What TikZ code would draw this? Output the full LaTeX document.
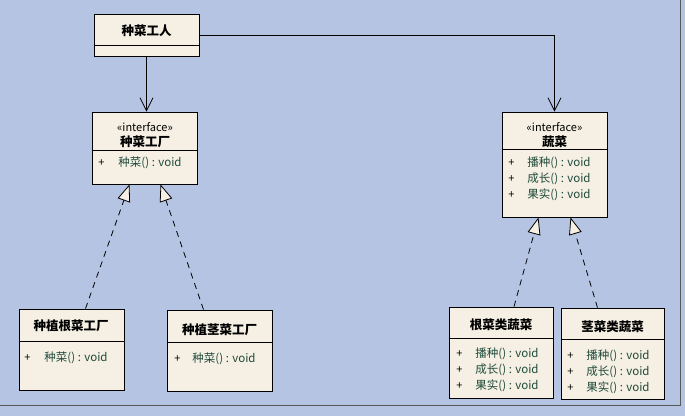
\documentclass[tikz,border=0pt]{standalone}
\usepackage{fontspec}
\setmainfont{Noto Sans CJK SC}
\usetikzlibrary{arrows.meta}
\definecolor{bgblue}{HTML}{B4C4E2}
\definecolor{boxfill}{HTML}{F5F0E3}
\definecolor{opgreen}{HTML}{1F4A3C}
\begin{document}
\begin{tikzpicture}[x=1pt,y=-1pt,line width=0.8pt,
  umlbox/.style={draw=black,fill=boxfill,inner sep=0pt,minimum width=105pt},
  clsname/.style={font=\fontsize{12.5}{14}\selectfont\bfseries},
  stereo/.style={font=\fontsize{11}{13}\selectfont},
  plus/.style={anchor=west,inner sep=0pt,font=\fontsize{11}{13}\selectfont},
  oper/.style={anchor=west,inner sep=0pt,text=opgreen,font=\fontsize{11.5}{13}\selectfont},
  nav/.style={-{Straight Barb[length=13pt,width=13pt]}},
  realize/.style={dash pattern=on 6pt off 5pt,-{Triangle[length=17pt,width=13pt,fill=boxfill]}}]
  \fill[bgblue] (0,0) rectangle (685,416);
  \useasboundingbox (0,0) rectangle (685,416);
  % 外框
  \draw[gray!70!black,line width=1pt] (0,405) -- (680,405) -- (680,0);

  % 类框
  \node[umlbox,minimum height=42pt] (worker) at (146.5,35) {};
  \node[umlbox,minimum height=72pt] (factory) at (144.5,148) {};
  \node[umlbox,minimum height=105pt] (veg) at (554.5,164.5) {};
  \node[umlbox,minimum height=81pt] (rootfactory) at (71.5,349.5) {};
  \node[umlbox,minimum height=81pt] (stemfactory) at (219.5,350.5) {};
  \node[umlbox,minimum height=91pt,minimum width=104pt] (rootveg) at (501,352.5) {};
  \node[umlbox,minimum height=91pt,minimum width=103pt] (stemveg) at (612.5,353.5) {};

  % 分隔线
  \draw (worker.west |- 0,45) -- (worker.east |- 0,45);
  \draw (factory.west |- 0,150) -- (factory.east |- 0,150);
  \draw (veg.west |- 0,149) -- (veg.east |- 0,149);
  \draw (rootfactory.west |- 0,341) -- (rootfactory.east |- 0,341);
  \draw (stemfactory.west |- 0,342) -- (stemfactory.east |- 0,342);
  \draw (rootveg.west |- 0,338) -- (rootveg.east |- 0,338);
  \draw (stemveg.west |- 0,339) -- (stemveg.east |- 0,339);

  % 类名
  \node[clsname] (workername) at (146.5,31) {种菜工人};
  \node[stereo] (factorystereo) at (145,127) {«interface»};
  \node[clsname] (factoryname) at (145,142) {种菜工厂};
  \node[stereo] (vegstereo) at (554.5,127) {«interface»};
  \node[clsname] (vegname) at (554.5,142) {蔬菜};
  \node[clsname] (rootfactoryname) at (71,326) {种植根菜工厂};
  \node[clsname] (stemfactoryname) at (219.5,330) {种植茎菜工厂};
  \node[clsname] (rootvegname) at (501,325) {根菜类蔬菜};
  \node[clsname] (stemvegname) at (612.5,327) {茎菜类蔬菜};

  % 操作
  \node[plus] (fp1) at (98,163) {+};
  \node[oper] (fo1) at (118,163) {种菜() : void};
  \node[plus] (vp1) at (508,163) {+};
  \node[oper] (vo1) at (527,163) {播种() : void};
  \node[plus] (vp2) at (508,179) {+};
  \node[oper] (vo2) at (527,179) {成长() : void};
  \node[plus] (vp3) at (508,195) {+};
  \node[oper] (vo3) at (527,195) {果实() : void};
  \node[plus] (rfp1) at (24,358) {+};
  \node[oper] (rfo1) at (44,358) {种菜() : void};
  \node[plus] (sfp1) at (174,359) {+};
  \node[oper] (sfo1) at (192,359) {种菜() : void};
  \node[plus] (rvp1) at (456,354) {+};
  \node[oper] (rvo1) at (475,354) {播种() : void};
  \node[plus] (rvp2) at (456,370) {+};
  \node[oper] (rvo2) at (475,370) {成长() : void};
  \node[plus] (rvp3) at (456,386) {+};
  \node[oper] (rvo3) at (475,386) {果实() : void};
  \node[plus] (svp1) at (567,356) {+};
  \node[oper] (svo1) at (586,356) {播种() : void};
  \node[plus] (svp2) at (567,372) {+};
  \node[oper] (svo2) at (586,372) {成长() : void};
  \node[plus] (svp3) at (567,388) {+};
  \node[oper] (svo3) at (586,388) {果实() : void};

  % 关联
  \draw[nav] (worker.south) -- (worker.south |- factory.north);
  \draw[nav] (worker.east) -| (veg.north);

  % 实现
  \draw[realize] ([xshift=14pt]rootfactory.north) -- ([xshift=-15pt]factory.south);
  \draw[realize] ([xshift=-16pt]stemfactory.north) -- ([xshift=16pt]factory.south);
  \draw[realize] ([xshift=13pt]rootveg.north) -- ([xshift=-16pt]veg.south);
  \draw[realize] ([xshift=-15pt]stemveg.north) -- ([xshift=16pt]veg.south);
\end{tikzpicture}
\end{document}
